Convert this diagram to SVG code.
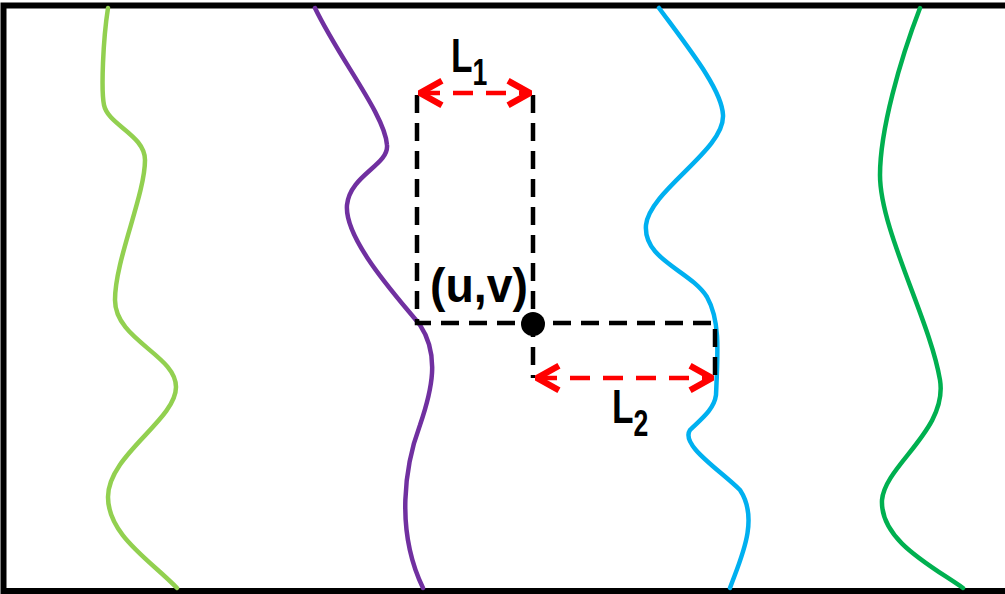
<svg xmlns="http://www.w3.org/2000/svg" width="1005" height="594" viewBox="0 0 1005 594">
<defs>
<style>
.curve{fill:none;stroke-width:4.5;stroke-linecap:round}
.dash{fill:none;stroke:#000;stroke-width:4.5;stroke-dasharray:18 10}
.red{fill:none;stroke:#FF0000;stroke-width:4.5;stroke-dasharray:20 13}
.lbl{font-family:"Liberation Sans",Arial,sans-serif;font-weight:bold;fill:#000}
</style>
<marker id="chev" viewBox="0 0 12 12" refX="11" refY="6" markerWidth="6.5" markerHeight="6.5" orient="auto-start-reverse" markerUnits="strokeWidth">
<polyline points="2,1 11,6 2,11" fill="none" stroke="#FF0000" stroke-width="2.6" stroke-linejoin="miter"/>
</marker>
</defs>
<rect x="0" y="0" width="1005" height="594" fill="#fff"/>
<rect id="frame" x="3.5" y="5.5" width="1010" height="585.5" fill="none" stroke="#000" stroke-width="6"/>
<g id="curves">
<path class="curve" stroke="#92D050" d="M108,8 C103,40 101,90 104,105 C108,125 145,135 145,160 C145,195 115,260 115,300 C115,340 176,355 176,387 C176,420 108,455 108,497 C108,535 150,560 177,588"/>
<path class="curve" stroke="#7030A0" d="M315,8 C340,60 385,115 387,145 C389,165 350,175 347,205 C344,240 400,300 420,325 C440,355 432,390 420,425 C405,465 395,530 423,588"/>
<path class="curve" stroke="#00B0F0" d="M659,8 C690,50 722,90 723,115 C725,150 650,190 646,225 C643,260 690,270 707,297 C720,320 718,350 716,395 C714,410 700,420 690,430 C680,445 720,470 740,490 C760,520 740,560 730,588"/>
<path class="curve" stroke="#00B050" d="M920,8 C900,60 880,130 880,175 C880,230 930,320 940,380 C948,430 885,465 882,500 C880,540 930,565 963,588"/>
</g>
<g id="connectors">
<path class="dash" d="M417,95 V323 H715 V378"/>
<path class="dash" d="M533,95 V323 V378"/>
<line class="red" x1="420" y1="93" x2="530" y2="93" marker-start="url(#chev)" marker-end="url(#chev)"/>
<line class="red" x1="537" y1="378" x2="712" y2="378" marker-start="url(#chev)" marker-end="url(#chev)"/>
</g>
<g id="point">
<circle cx="533" cy="324" r="12" fill="#000"/>
<text class="lbl" x="430" y="302" font-size="48" textLength="98" lengthAdjust="spacingAndGlyphs">(u,v)</text>
</g>
<g id="label-L1">
<text class="lbl" transform="translate(451,72) scale(0.72,1)" font-size="49">L<tspan font-size="37" dy="13">1</tspan></text>
</g>
<g id="label-L2">
<text class="lbl" transform="translate(612,423) scale(0.72,1)" font-size="49">L<tspan font-size="37" dy="13">2</tspan></text>
</g>
</svg>
